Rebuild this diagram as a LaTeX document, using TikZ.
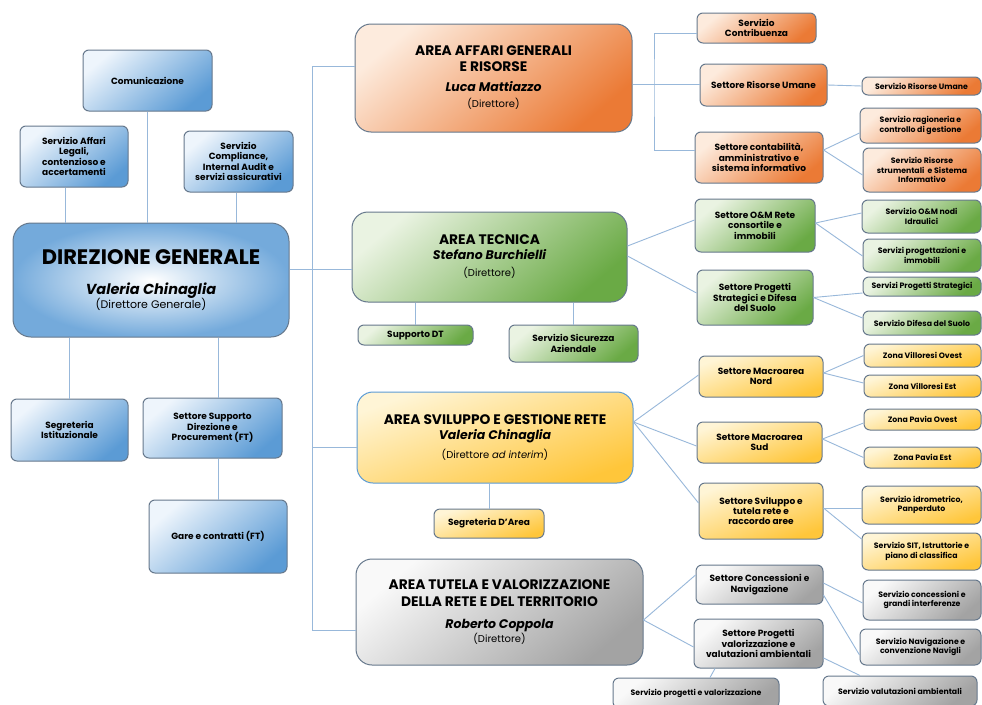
\documentclass[tikz,border=0pt]{standalone}
\usepackage{fontspec}
\setmainfont{Poppins}
\usetikzlibrary{positioning, calc}

\definecolor{linkc}{HTML}{98B8DA}
\definecolor{edge}{HTML}{66788C}
\definecolor{bluelt}{HTML}{EEF5FC}
\definecolor{bluedk}{HTML}{5B9BD5}
\definecolor{orglt}{HTML}{FDEBDD}
\definecolor{orgdk}{HTML}{EB7A35}
\definecolor{grnlt}{HTML}{EAF3E2}
\definecolor{grndk}{HTML}{6AAA45}
\definecolor{yellt}{HTML}{FFF5D6}
\definecolor{yeldk}{HTML}{FFC63A}
\definecolor{grylt}{HTML}{F9F9F9}
\definecolor{grydk}{HTML}{A3A3A3}

\tikzset{
  sz/.style 2 args={minimum width=#1pt, minimum height=#2pt},
  box/.style={draw=edge, line width=1pt, rounded corners=6pt, align=center, inner sep=1pt,
    font=\bfseries\fontsize{9}{10.4}\selectfont},
  small/.style={font=\bfseries\fontsize{7.8}{9.2}\selectfont},
  area/.style={rounded corners=16pt, font=\fontsize{13.8}{15}\selectfont},
  bluebox/.style={box, top color=bluelt, bottom color=bluedk, shading angle=40},
  orgbox/.style={box, top color=orglt, bottom color=orgdk, shading angle=40},
  grnbox/.style={box, top color=grnlt, bottom color=grndk, shading angle=40},
  yelbox/.style={box, top color=yellt, bottom color=yeldk, shading angle=20},
  grybox/.style={box, top color=grylt, bottom color=grydk, shading angle=40},
  link/.style={draw=linkc, line width=0.9pt},
}
\newcommand{\areatitle}[1]{{\bfseries #1}}
\newcommand{\areaname}[1]{{\bfseries\itshape\fontsize{12.5}{14}\selectfont #1}}
\newcommand{\arearole}[1]{{\mdseries\fontsize{10}{12}\selectfont #1}}

\begin{document}
\begin{tikzpicture}[x=1pt, y=-1pt]
\useasboundingbox (0,0) rectangle (982,704);
\fill[white] (0,0) rectangle (982,704);

% direzione generale
\node[bluebox, sz={129}{61}] (comm) at (147.5,80.5) {Comunicazione};
\node[bluebox, sz={108}{61}] (legali) at (74,156.5) {Servizio Affari\\Legali,\\contenzioso e\\accertamenti};
\node[bluebox, sz={109}{61}] (compl) at (238.5,161.5) {Servizio\\Compliance,\\Internal Audit e\\servizi assicurativi};
\node[box, inner color=white, outer color=bluedk!85!white, rounded corners=18pt, sz={276}{114}] (dg) at (151,280)
  {{\bfseries\fontsize{21}{24}\selectfont DIREZIONE GENERALE}\\[17pt]
   {\bfseries\itshape\fontsize{14.5}{16}\selectfont Valeria Chinaglia}\\[-1pt]
   {\mdseries\fontsize{11}{12}\selectfont (Direttore Generale)}};
\node[bluebox, sz={117}{62}] (segr) at (69.5,430) {Segreteria\\Istituzionale};
\node[bluebox, sz={139}{60}] (ssd) at (212.5,428) {Settore Supporto\\Direzione e\\Procurement (FT)};
\node[bluebox, sz={138}{73}] (gare) at (218,536.5) {Gare e contratti (FT)};

\draw[link] ([xshift=-9pt]legali.south) -- ([xshift=-9pt]legali.south |- dg.north);
\draw[link] (comm.south) -- (comm.south |- dg.north);
\draw[link] ([xshift=-2pt]compl.south) -- ([xshift=-2pt]compl.south |- dg.north);
\draw[link] (segr.north |- dg.south) -- (segr.north);
\draw[link] (gare.north |- dg.south) -- (gare.north |- ssd.north);
\draw[link] (gare.north |- ssd.south) -- (gare.north);

% aree
\node[orgbox, area, sz={277}{108}] (aag) at (493.5,78)
  {\areatitle{AREA AFFARI GENERALI}\\[1pt]\areatitle{E RISORSE}\\[5pt]\areaname{Luca Mattiazzo}\\[1pt]\arearole{(Direttore)}};
\node[grnbox, area, sz={275}{90}] (tec) at (489.5,257)
  {\areatitle{AREA TECNICA}\\[0pt]\areaname{Stefano Burchielli}\\[2pt]\arearole{(Direttore)}};
\node[yelbox, area, draw=bluedk, sz={276}{91}] (svil) at (495,437.5)
  {\areatitle{AREA SVILUPPO E GESTIONE RETE}\\\areaname{Valeria Chinaglia}\\[4pt]\arearole{(Direttore \textit{ad interim})}};
\node[grybox, area, sz={287}{106}] (tut) at (499.5,612)
  {\areatitle{AREA TUTELA E VALORIZZAZIONE}\\[2pt]\areatitle{DELLA RETE E DEL TERRITORIO}\\[7pt]\areaname{Roberto Coppola}\\[-1pt]\arearole{(Direttore)}};

\coordinate (trunk) at (312,0);
\coordinate (ta) at ([yshift=12pt]aag.west);
\coordinate (ts) at ([yshift=-9.5pt]svil.west);
\coordinate (tt) at ([yshift=-18pt]tut.west);
\draw[link] (ta) -| (trunk |- tt) -- (tt);
\draw[link] (ts) -- (ts -| trunk);
\draw[link] ([yshift=11pt]dg.east) -- ([yshift=-12pt]tec.west);

% area tecnica / sviluppo: uffici di staff
\node[grnbox, sz={115}{20}] (supdt) at (415.5,335) {Supporto DT};
\node[grnbox, sz={129}{37}] (sicur) at (573.5,343.5) {Servizio Sicurezza\\Aziendale};
\node[yelbox, sz={110}{29}] (segarea) at (489,523.5) {Segreteria D'Area};
\draw[link] (supdt.north |- tec.south) -- (supdt.north);
\draw[link] (sicur.north |- tec.south) -- (sicur.north);
\draw[link] (segarea.north |- svil.south) -- (segarea.north);

% affari generali
\node[orgbox, sz={119}{30}] (contr) at (756.5,28) {Servizio\\Contribuenza};
\node[orgbox, sz={127}{42}] (sru) at (763.5,85) {Settore Risorse Umane};
\node[orgbox, sz={128}{51}] (scont) at (759,157.5) {Settore contabilità,\\amministrativo e\\sistema informativo};
\node[orgbox, small, sz={119}{18}] (servru) at (921.5,86) {Servizio Risorse Umane};
\node[orgbox, small, sz={121}{35}] (ragion) at (920.5,125.5) {Servizio ragioneria e\\controllo di gestione};
\node[orgbox, small, sz={118}{44}] (rstrum) at (922,170) {Servizio Risorse\\strumentali\ \ e Sistema\\Informativo};

\coordinate (obr) at (654,84);
\draw[link] ([yshift=-6pt]aag.east) -- (obr);
\draw[link] ([yshift=-5pt]contr.west) -| (obr) |- ([yshift=7.5pt]scont.west);
\draw[link] (obr) -- (obr -| sru.west);
\draw[link] (sru.east) -- (servru.west);
\draw[link] ([yshift=7.5pt]scont.east) -- ([yshift=-7.5pt]ragion.west);
\draw[link] ([yshift=7.5pt]scont.east) -- ([yshift=-5pt]rstrum.west);

% tecnica
\node[grnbox, sz={120}{53}] (som) at (755,225.5) {Settore O\&M Rete\\consortile e\\immobili};
\node[grnbox, sz={116}{55}] (sps) at (755,297.5) {Settore Progetti\\Strategici e Difesa\\del Suolo};
\node[grnbox, small, sz={119}{33}] (omnodi) at (921.5,216.5) {Servizio O\&M nodi\\Idraulici};
\node[grnbox, small, sz={118}{33}] (progimm) at (922,255.5) {Servizi progettazioni e\\immobili};
\node[grnbox, small, sz={118}{19}] (progstr) at (922,286.5) {Servizi Progetti Strategici};
\node[grnbox, small, sz={118}{24}] (difesa) at (922,323) {Servizio Difesa del Suolo};

\draw[link] ([yshift=11pt]tec.east) -- ([yshift=5.5pt]som.west);
\draw[link] ([yshift=1pt]tec.east) -- ([yshift=4.5pt]sps.west);
\draw[link] ([yshift=2.5pt]som.east) -- ([yshift=3.5pt]omnodi.west);
\draw[link] ([yshift=2.5pt]som.east) -- ([yshift=-0.5pt]progimm.west);
\draw[link] (sps.east) -- ([yshift=-6.5pt]progstr.west);
\draw[link] (sps.east) -- ([yshift=5pt]difesa.west);

% sviluppo e gestione rete
\node[yelbox, sz={124}{41}] (nord) at (761,376.5) {Settore Macroarea\\Nord};
\node[yelbox, sz={125}{41}] (sud) at (759.5,442.5) {Settore Macroarea\\Sud};
\node[yelbox, sz={124}{56}] (ssvil) at (761,511) {Settore Sviluppo e\\tutela rete e\\raccordo aree};
\node[yelbox, small, sz={117}{23}] (vovest) at (922.5,355.5) {Zona Villoresi Ovest};
\node[yelbox, small, sz={117}{22}] (vest) at (922.5,386) {Zona Villoresi Est};
\node[yelbox, small, sz={117}{21}] (povest) at (922.5,419.5) {Zona Pavia Ovest};
\node[yelbox, small, sz={117}{21}] (pest) at (922.5,457.5) {Zona Pavia Est};
\node[yelbox, small, sz={119}{38}] (idro) at (921.5,505) {Servizio idrometrico,\\Panperduto};
\node[yelbox, small, sz={119}{37}] (sit) at (921.5,551.5) {Servizio SIT, Istruttorie e\\piano di classifica};

\draw[link] ([yshift=15.5pt]svil.east) -- ([yshift=1.5pt]nord.west);
\draw[link] ([yshift=15.5pt]svil.east) -- ([yshift=-3.5pt]sud.west);
\draw[link] ([yshift=15.5pt]svil.east) -- ([yshift=8pt]ssvil.west);
\draw[link] ([yshift=3.5pt]nord.east) -- (vovest.west);
\draw[link] ([yshift=3.5pt]nord.east) -- ([yshift=3pt]vest.west);
\draw[link] ([yshift=3.5pt]sud.east) -- ([yshift=-3.5pt]povest.west);
\draw[link] ([yshift=3.5pt]sud.east) -- (pest.west);
\draw[link] ([yshift=3pt]ssvil.east) -- ([yshift=-3pt]idro.west);
\draw[link] ([yshift=3pt]ssvil.east) -- ([yshift=12.5pt]sit.west);

% tutela e valorizzazione
\node[grybox, sz={127}{39}] (conc) at (759.5,584.5) {Settore Concessioni e\\Navigazione};
\node[grybox, sz={129}{49}] (pval) at (758.5,643.5) {Settore Progetti\\valorizzazione e\\valutazioni ambientali};
\node[grybox, small, sz={118}{40}] (sconc) at (922,600) {Servizio concessioni e\\grandi interferenze};
\node[grybox, small, sz={121}{36}] (snav) at (920.5,647) {Servizio Navigazione e\\convenzione Navigli};
\node[grybox, small, sz={166}{30}] (sprog) at (696,693) {Servizio progetti e valorizzazione};
\node[grybox, small, sz={154}{30}] (svalut) at (900,691) {Servizio valutazioni ambientali};

\draw[link] ([yshift=-8pt]tut.east) -- ([yshift=9.5pt]conc.west);
\draw[link] ([yshift=-8pt]tut.east) -- ([yshift=-3.5pt]pval.west);
\draw[link] ([yshift=1.5pt]conc.east) -- ([yshift=-3pt]sconc.west);
\draw[link] ([yshift=-10.5pt]conc.east) -- ([yshift=-8pt]snav.west);
\draw[link] ([yshift=-14.5pt]pval.east) -- ([xshift=-40pt]svalut.north);
\draw[link] ([xshift=-43.5pt]pval.south) -- ([xshift=14pt]sprog.north);
\end{tikzpicture}
\end{document}
